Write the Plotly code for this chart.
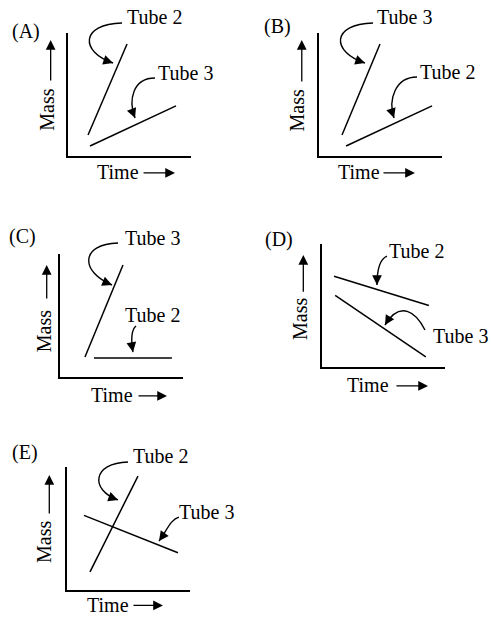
import math
import plotly.graph_objects as go

# answer choices
panels = ["(A)", "(B)", "(C)", "(D)", "(E)"]

# each tube line as [start, end], in time / mass units (axes run 0..10)
tube2_time = [[1.63, 4.80], [2.20, 9.19], [2.76, 9.10], [0.98, 8.69], [1.87, 5.77]]
tube2_mass = [[1.71, 9.11], [0.81, 4.07], [1.54, 1.54], [7.38, 5.00], [1.48, 9.26]]
tube3_time = [[1.79, 8.78], [1.87, 4.96], [2.03, 5.12], [1.07, 8.44], [1.38, 9.02]]
tube3_mass = [[0.81, 4.07], [1.71, 9.11], [1.63, 9.10], [5.82, 0.82], [6.07, 3.03]]

W, H = 491, 617
S = 12.3  # pixels per axis unit
FONT = "Liberation Serif"
FS = 20

# origin of each L-shaped axes, in pixels
origins = [(68, 156), (319, 156), (60, 377), (322, 367), (67, 590)]

# label and callout placement, in axis units of each panel
place = [
    dict(letter=(-3.41, 10.16),
         t2=(7.07, 11.30), t3=(9.59, 6.75),
         c2=[(4.39, 10.81), (0.98, 10.73), (0.98, 8.46), (3.66, 7.56)],
         c3=[(7.07, 6.34), (5.28, 6.34), (4.88, 4.55), (5.45, 3.09)],
         time=(4.07, -1.30, 6.02, 8.70, -1.38),
         mass=(-1.73, 3.74, -1.41, 6.02, 9.43)),
    dict(letter=(-3.41, 10.49),
         t2=(10.41, 6.83), t3=(6.99, 11.30),
         c2=[(7.97, 6.42), (6.18, 6.42), (5.61, 4.55), (6.10, 3.09)],
         c3=[(4.39, 10.81), (0.98, 10.73), (0.98, 8.46), (3.74, 7.56)],
         time=(3.25, -1.30, 5.12, 7.80, -1.38),
         mass=(-1.75, 3.74, -1.40, 5.94, 9.43)),
    dict(letter=(-3.01, 11.46),
         t2=(7.56, 5.04), t3=(7.48, 11.30),
         c2=[(6.18, 4.15), (5.77, 3.82), (5.77, 3.01), (5.93, 2.03)],
         c3=[(4.72, 10.89), (1.63, 10.81), (1.63, 8.54), (4.23, 7.48)],
         time=(4.23, -1.46, 6.26, 8.70, -1.54),
         mass=(-1.28, 3.74, -1.08, 6.26, 9.10)),
    dict(letter=(-3.50, 10.33),
         t2=(7.72, 9.43), t3=(11.22, 2.52),
         c2=[(5.28, 9.02), (4.72, 8.78), (4.47, 7.89), (4.47, 6.67)],
         c3=[(8.37, 3.01), (7.64, 4.47), (6.34, 5.45), (5.12, 3.41)],
         time=(3.74, -1.46, 5.93, 8.62, -1.54),
         mass=(-1.79, 3.90, -1.52, 6.00, 9.10)),
    dict(letter=(-3.41, 11.14),
         t2=(7.64, 10.89), t3=(11.38, 6.34),
         c2=[(4.96, 10.41), (2.03, 10.33), (1.87, 8.13), (4.15, 7.32)],
         c3=[(9.10, 5.93), (8.46, 5.77), (8.13, 4.88), (7.48, 3.98)],
         time=(3.33, -1.22, 5.28, 7.80, -1.25),
         mass=(-1.93, 3.93, -1.44, 6.10, 9.35)),
]


def to_paper(i, x, y):
    ox, oy = origins[i]
    return (ox + x * S) / W, 1 - (oy - y * S) / H


fig = go.Figure()
annotations = []
shapes = []
arrow_style = dict(showarrow=True, arrowhead=2, arrowsize=1.5, arrowwidth=1.3,
                   arrowcolor="black", standoff=0, text="")


def text_ann(i, pos, txt, angle=0):
    px, py = to_paper(i, *pos)
    annotations.append(dict(x=px, y=py, xref="paper", yref="paper", text=txt,
                            showarrow=False, textangle=angle,
                            xanchor="center", yanchor="middle",
                            font=dict(family=FONT, size=FS, color="black")))


def callout(i, pts):
    pp = [to_paper(i, *p) for p in pts]
    path = "M {},{} C {},{} {},{} {},{}".format(*[v for p in pp for v in p])
    shapes.append(dict(type="path", path=path, xref="paper", yref="paper",
                       line=dict(color="black", width=1.4)))
    # arrowhead along the tangent at the curve end
    dx = (pts[2][0] - pts[3][0]) * S
    dy = -(pts[2][1] - pts[3][1]) * S
    n = math.hypot(dx, dy)
    annotations.append(dict(x=pp[3][0], y=pp[3][1], xref="paper", yref="paper",
                            ax=dx / n * 10, ay=dy / n * 10, **arrow_style))


for i in range(len(panels)):
    ox, oy = origins[i]
    sfx = "" if i == 0 else str(i + 1)
    ax_common = dict(range=[0, 10], showline=True, linecolor="black", linewidth=1.5,
                     showgrid=False, zeroline=False, showticklabels=False, ticks="",
                     fixedrange=True)
    fig.update_layout(**{
        "xaxis" + sfx: dict(domain=[ox / W, (ox + 10 * S) / W], anchor="y" + sfx, **ax_common),
        "yaxis" + sfx: dict(domain=[1 - oy / H, 1 - (oy - 10 * S) / H], anchor="x" + sfx, **ax_common),
    })

    for tx, ty in [(tube2_time[i], tube2_mass[i]), (tube3_time[i], tube3_mass[i])]:
        fig.add_trace(go.Scatter(x=tx, y=ty, mode="lines", xaxis="x" + sfx, yaxis="y" + sfx,
                                 line=dict(color="black", width=1.5),
                                 showlegend=False, hoverinfo="skip"))

    p = place[i]
    text_ann(i, p["letter"], panels[i])
    text_ann(i, p["t2"], "Tube 2")
    text_ann(i, p["t3"], "Tube 3")
    callout(i, p["c2"])
    callout(i, p["c3"])

    # Time ->
    tx, ty, x0, x1, ay_ = p["time"]
    text_ann(i, (tx, ty), "Time")
    hx, hy = to_paper(i, x1, ay_)
    annotations.append(dict(x=hx, y=hy, xref="paper", yref="paper",
                            ax=-(x1 - x0) * S, ay=0, **arrow_style))

    # Mass ->
    mx, my, amx, y0, y1 = p["mass"]
    text_ann(i, (mx, my), "Mass", angle=-90)
    hx, hy = to_paper(i, amx, y1)
    annotations.append(dict(x=hx, y=hy, xref="paper", yref="paper",
                            ax=0, ay=(y1 - y0) * S, **arrow_style))

fig.update_layout(
    width=W, height=H,
    margin=dict(l=0, r=0, t=0, b=0),
    paper_bgcolor="white", plot_bgcolor="white",
    annotations=annotations, shapes=shapes,
    showlegend=False,
)

# drop the page margin so the figure fills the window exactly
fig.write_html("out.html", config={"displayModeBar": False},
               post_script="document.body.style.margin='0';")
